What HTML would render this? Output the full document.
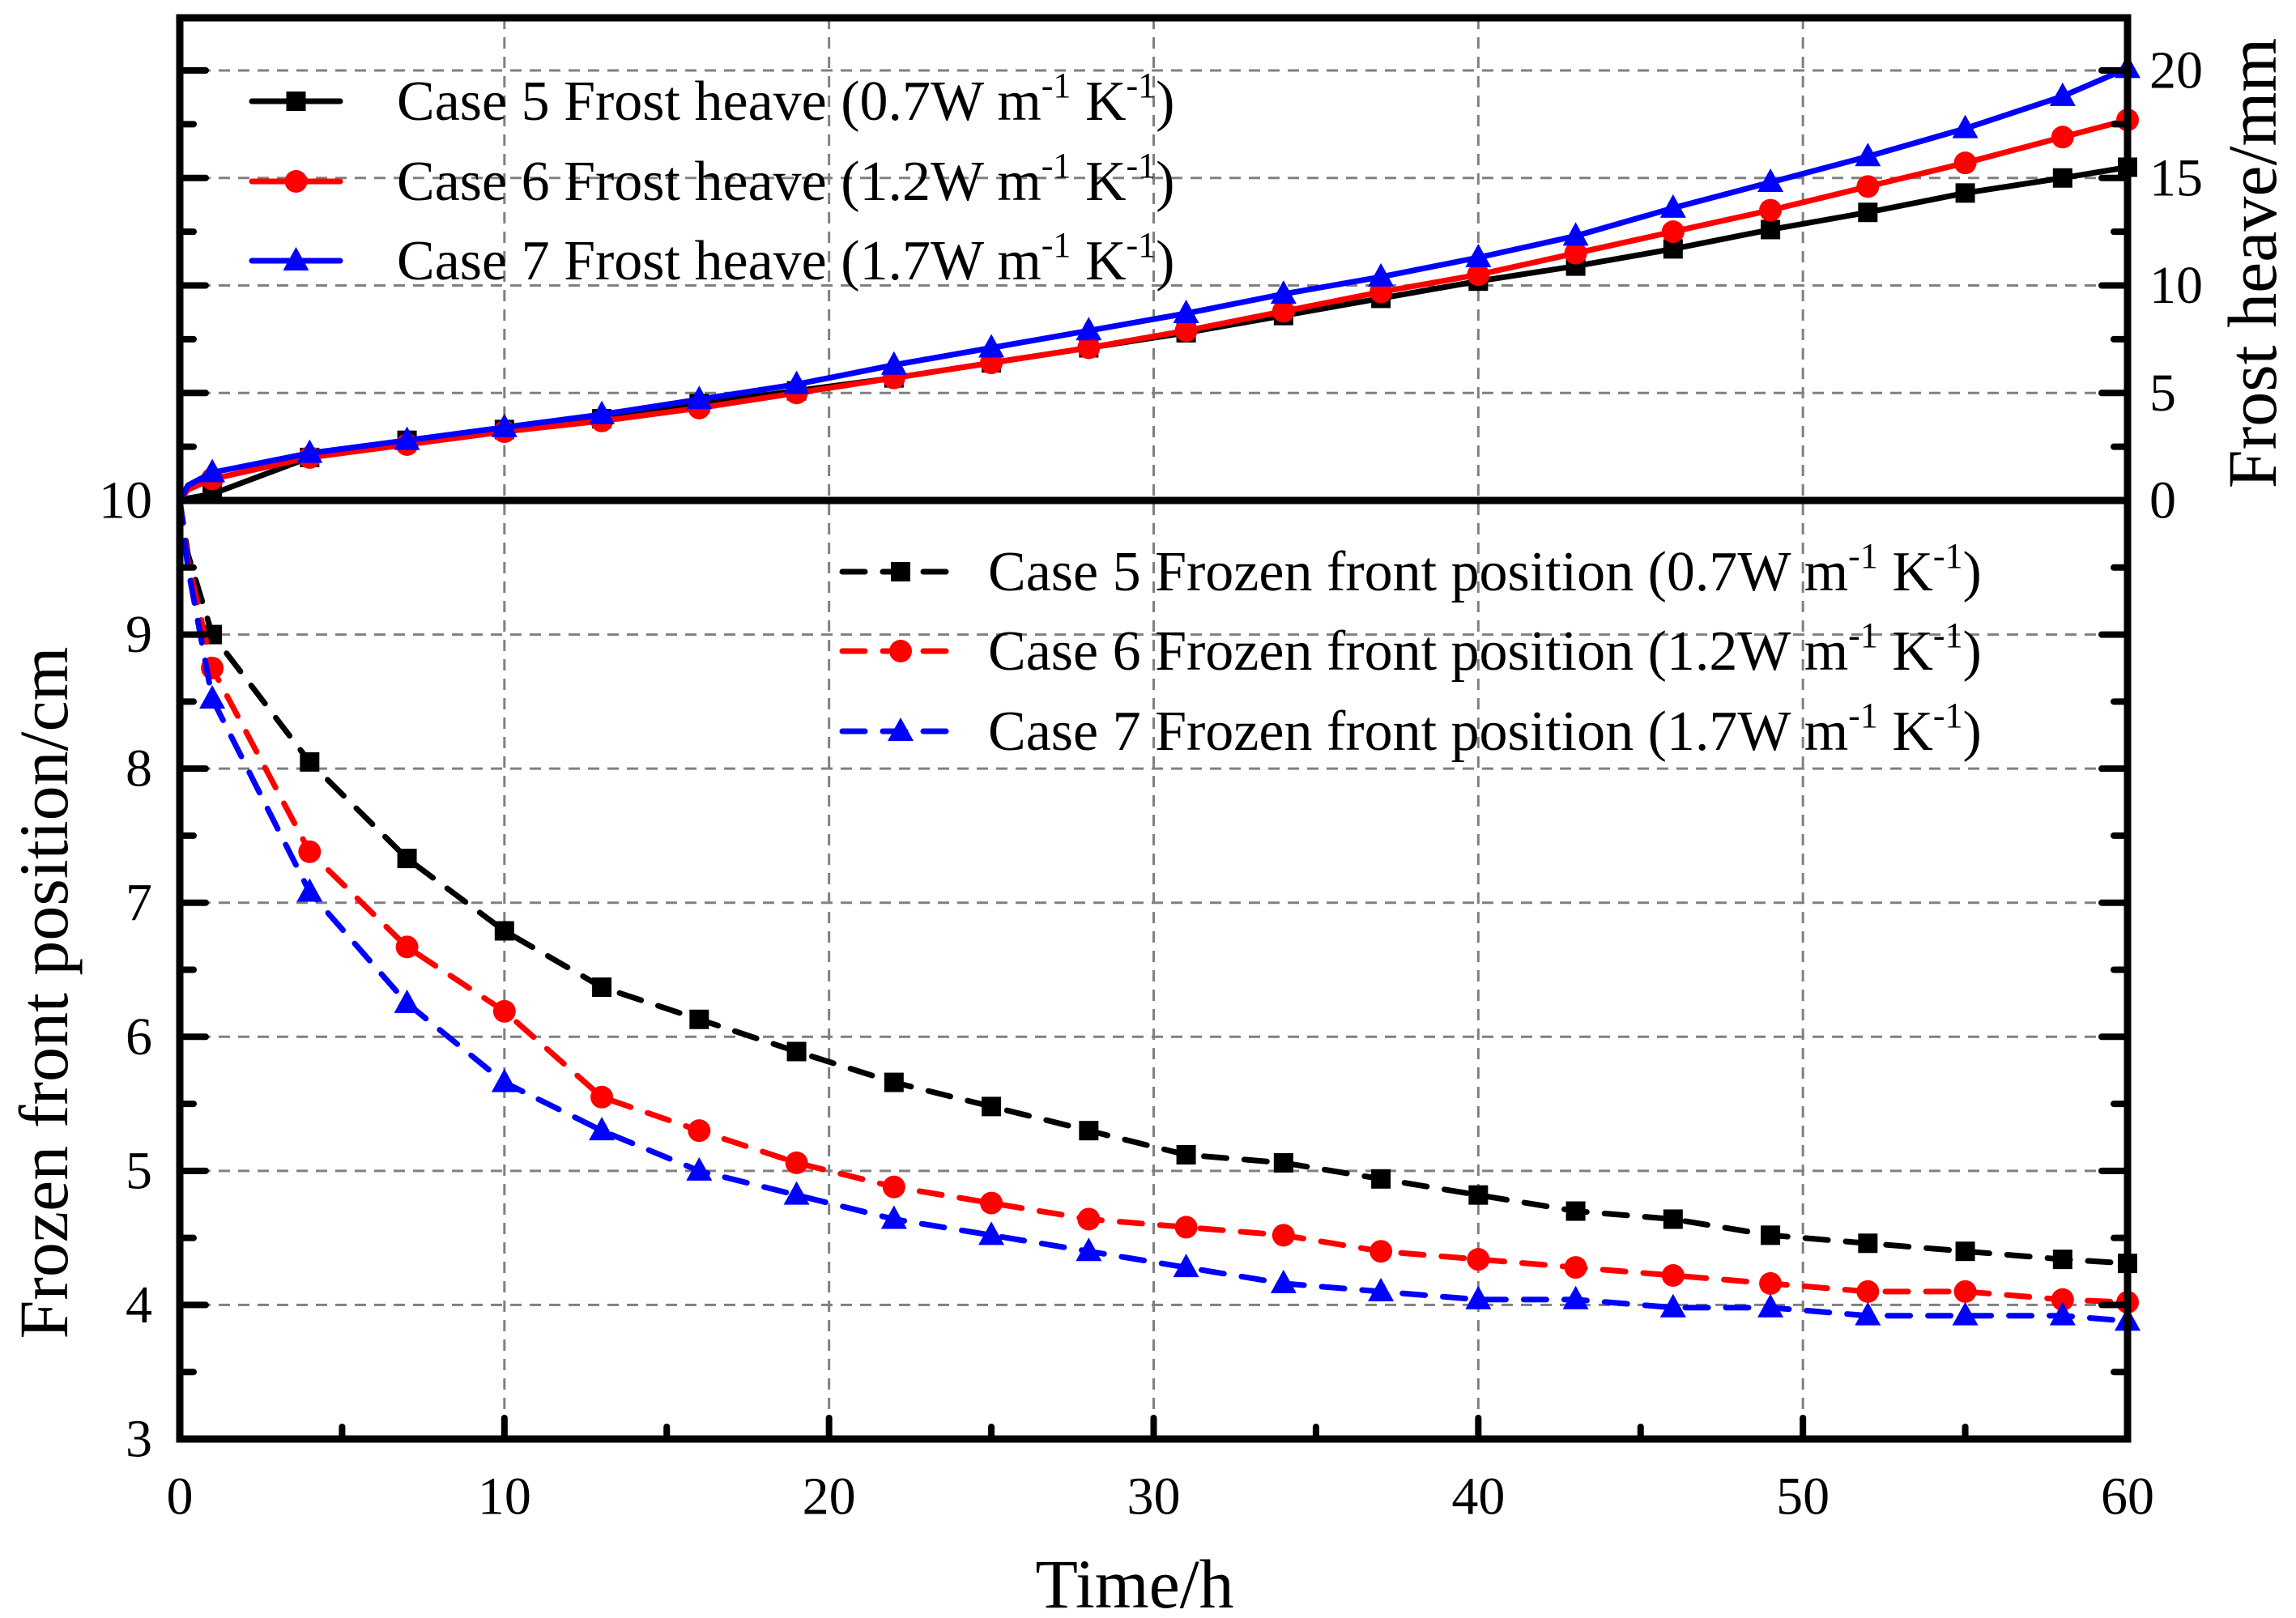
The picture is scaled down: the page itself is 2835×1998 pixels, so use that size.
<!DOCTYPE html>
<html><head><meta charset="utf-8"><style>
html,body{margin:0;padding:0;background:#fff}
svg{display:block;font-family:"Liberation Serif",serif}
</style></head><body>
<svg id="chart" width="2835" height="1998" viewBox="0 0 2835 1998" xmlns="http://www.w3.org/2000/svg">
<g id="grid"></g>
<g id="series"></g>
<g id="axes"></g>
<g id="legend"></g>
</svg>
<script>
const times = [0,0.25,1,4,7,10,13,16,19,22,25,28,31,34,37,40,43,46,49,52,55,58,60];
const heave5 = [0,0.1,0.3,2.0,2.8,3.3,3.8,4.5,5.1,5.7,6.4,7.1,7.8,8.6,9.4,10.2,10.9,11.7,12.6,13.4,14.3,15.0,15.5];
const heave6 = [0,0.5,1.0,2.0,2.6,3.2,3.7,4.3,5.0,5.7,6.4,7.1,7.9,8.8,9.7,10.5,11.5,12.5,13.5,14.6,15.7,16.9,17.7];
const heave7 = [0,0.7,1.3,2.2,2.8,3.4,4.0,4.7,5.4,6.3,7.1,7.9,8.7,9.6,10.4,11.3,12.3,13.6,14.8,16.0,17.3,18.8,20.1];
const front5 = [10,9.6,9.0,8.05,7.33,6.79,6.37,6.13,5.89,5.66,5.48,5.30,5.12,5.06,4.94,4.82,4.70,4.64,4.52,4.46,4.40,4.34,4.31];
const front6 = [10,9.55,8.75,7.38,6.67,6.19,5.55,5.30,5.06,4.88,4.76,4.64,4.58,4.52,4.40,4.34,4.28,4.22,4.16,4.10,4.10,4.04,4.02];
const front7 = [10,9.5,8.52,7.08,6.25,5.66,5.30,5.00,4.82,4.64,4.52,4.40,4.28,4.16,4.10,4.04,4.04,3.98,3.98,3.92,3.92,3.92,3.88];
const xTicks = [0,10,20,30,40,50,60];
const frontTicks = [3,4,5,6,7,8,9,10];
const heaveTicks = [0,5,10,15,20];

const L=222,R=2627,T=22,B=1777,M=618;
const X=t=>L+(t/60)*(R-L);
const YF=v=>M+(10-v)/7*(B-M);
const YH=v=>M-v/20*(M-87);
const NS="http://www.w3.org/2000/svg";
function mk(tag,attrs,parent){const e=document.createElementNS(NS,tag);for(const k in attrs)e.setAttribute(k,attrs[k]);parent.appendChild(e);return e;}
const grid=document.getElementById('grid'),ser=document.getElementById('series'),ax=document.getElementById('axes'),leg=document.getElementById('legend');

xTicks.slice(1,-1).forEach(t=>{const g=mk('line',{x1:X(t),x2:X(t),y1:T,y2:B,stroke:'#808080','stroke-width':3,'stroke-dasharray':'14 10'},grid);
});
frontTicks.slice(1,-1).forEach(v=>{const g=mk('line',{x1:L,x2:R,y1:YF(v),y2:YF(v),stroke:'#808080','stroke-width':3,'stroke-dasharray':'14 10'},grid);
});
heaveTicks.slice(1).forEach(v=>{const g=mk('line',{x1:L,x2:R,y1:YH(v),y2:YH(v),stroke:'#808080','stroke-width':3,'stroke-dasharray':'14 10'},grid);
});

function path(ys,yf){return ys.map((v,i)=>(i?'L':'M')+X(times[i]).toFixed(1)+','+yf(v).toFixed(1)).join('');}
function marker(shape,x,y,color,parent){
  let e;
  if(shape==='sq'){e=mk('rect',{x:x-12,y:y-12,width:24,height:24,fill:color},parent);}
  else if(shape==='ci'){e=mk('circle',{cx:x,cy:y,r:14,fill:color},parent);}
  else {e=mk('polygon',{points:`${x},${y-17} ${x-16},${y+12} ${x+16},${y+12}`,fill:color},parent);}
  
}
const defs=[
 [heave5,YH,'#000','sq',null,'heave-case5'],[heave6,YH,'#f00','ci',null,'heave-case6'],[heave7,YH,'#00f','tr',null,'heave-case7'],
 [front5,YF,'#000','sq','28 22','front-case5'],[front6,YF,'#f00','ci','28 22','front-case6'],[front7,YF,'#00f','tr','28 22','front-case7']];
defs.forEach(([d,yf,c,s,da,nm])=>{
  const g=mk('g',{},ser);
  const p=mk('path',{d:path(d,yf),fill:'none',stroke:c,'stroke-width':7,'stroke-linejoin':'round','stroke-linecap':'round'},g);
  if(da)p.setAttribute('stroke-dasharray',da);
  
  d.forEach((v,i)=>{if(times[i]>=1)marker(s,X(times[i]),yf(v),c,g);});
});

const fr=mk('rect',{x:L,y:T,width:R-L,height:B-T,fill:'none',stroke:'#000','stroke-width':9},ax);

const dv=mk('line',{x1:L,x2:R,y1:M,y2:M,stroke:'#000','stroke-width':9},ax);

function tick(x1,y1,x2,y2){const t=mk('line',{x1,y1,x2,y2,stroke:'#000','stroke-width':8,'stroke-linecap':'round'},ax);}
function label(txt,x,y,anchor,size,name){const t=mk('text',{x,y,'text-anchor':anchor,'font-size':size,'dominant-baseline':'central'},ax);t.textContent=txt;return t;}
xTicks.forEach(t=>{tick(X(t),B,X(t),B-26);label(t,X(t),1848,'middle',66,'x-tick-label');});
for(let t=5;t<60;t+=10)tick(X(t),B,X(t),B-15);
frontTicks.forEach(v=>{tick(L,YF(v),L+32,YF(v));tick(R,YF(v),R-32,YF(v));label(v,188,YF(v),'end',66,'front-tick-label');});
for(let v=3.5;v<10;v+=1){tick(L,YF(v),L+17,YF(v));tick(R,YF(v),R-17,YF(v));}
heaveTicks.forEach(v=>{if(v>0){tick(L,YH(v),L+32,YH(v));tick(R,YH(v),R-32,YH(v));}label(v,2654,YH(v),'start',66,'heave-tick-label');});
for(let v=2.5;v<21;v+=5){tick(L,YH(v),L+17,YH(v));tick(R,YH(v),R-17,YH(v));}
label('Time/h',1401,1956,'middle',86,'x-axis-title');
const yt=label('Frozen front position/cm',54,1226,'middle',86,'front-axis-title');yt.setAttribute('transform','rotate(-90 54 1226)');
const rt=label('Frost heave/mm',2781,325,'middle',86,'heave-axis-title');rt.setAttribute('transform','rotate(-90 2781 325)');

function legEntry(y,x1,x2,tx,c,s,da,txt,nm){
  const g=mk('g',{},leg);
  const l=mk('line',{x1,x2,y1:y,y2:y,stroke:c,'stroke-width':7,'stroke-linecap':'round'},g);if(da)l.setAttribute('stroke-dasharray',da);
  
  marker(s,(x1+x2)/2,y,c,g);
  const t=mk('text',{x:tx,y:y+23,'font-size':70},g);
  t.innerHTML=txt+' m<tspan dy="-28" font-size="44">-1</tspan><tspan dy="28"> K</tspan><tspan dy="-28" font-size="44">-1</tspan><tspan dy="28">)</tspan>';
}
legEntry(125,311,420,490,'#000','sq',null,'Case 5 Frost heave (0.7W','legend-heave-case5');
legEntry(224,311,420,490,'#f00','ci',null,'Case 6 Frost heave (1.2W','legend-heave-case6');
legEntry(322,311,420,490,'#00f','tr',null,'Case 7 Frost heave (1.7W','legend-heave-case7');
legEntry(706,1040,1184,1220,'#000','sq','28 22','Case 5 Frozen front position (0.7W','legend-front-case5');
legEntry(804,1040,1184,1220,'#f00','ci','28 22','Case 6 Frozen front position (1.2W','legend-front-case6');
legEntry(903,1040,1184,1220,'#00f','tr','28 22','Case 7 Frozen front position (1.7W','legend-front-case7');
</script>
</body></html>
